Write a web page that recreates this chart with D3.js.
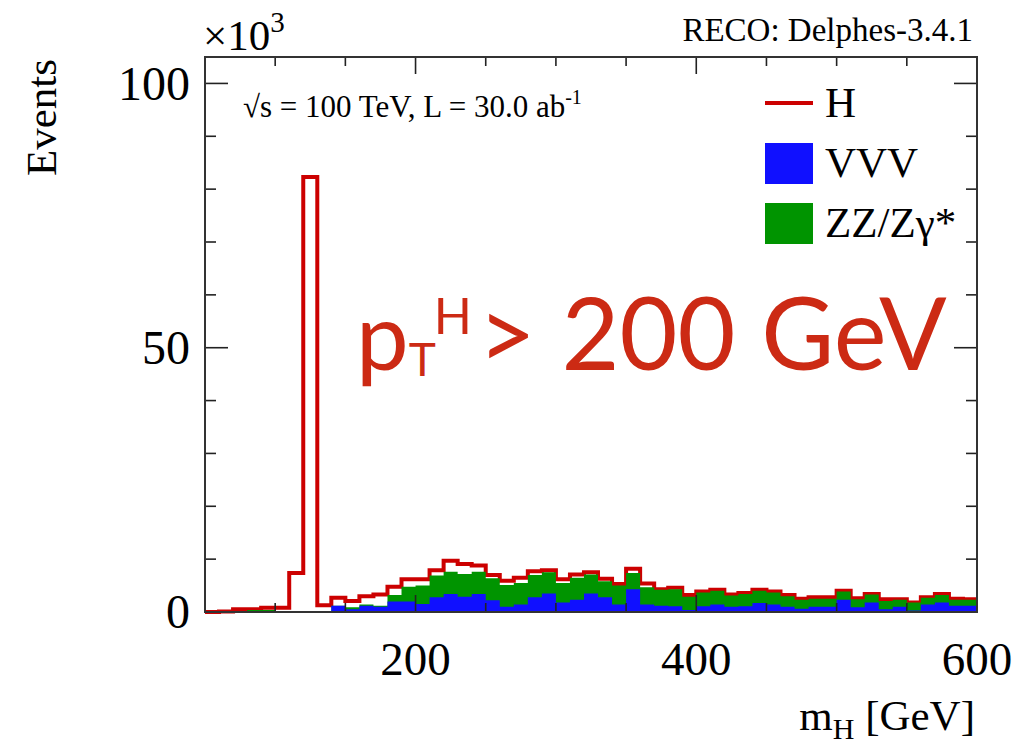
<!DOCTYPE html>
<html>
<head>
<meta charset="utf-8">
<script src="https://cdn.jsdelivr.net/npm/d3@7"></script>
<style>
  html, body { margin: 0; padding: 0; background: #fff; }
  svg { display: block; }
  .serif { font-family: "Liberation Serif", "DejaVu Serif", serif; fill: #000; }
</style>
</head>
<body>
<svg id="chart" width="1012" height="748"></svg>
<script>
// ---- data (events in units of 10^3), 10 GeV bins from 50 to 600 GeV ----
const binStart = 50;
const binWidth = 10;
const vvv = [0,0,0,0,0,0,0.2,0.1,0.1,1.2,0.5,1.2,1.0,2.0,2.0,1.5,2.8,3.4,2.9,3.4,2.2,1.0,1.4,2.8,3.5,1.8,2.3,3.5,2.8,1.4,4.3,1.4,1.2,1.1,0.4,1.1,1.4,1.0,1.1,1.7,1.4,1.0,0.6,1.0,1.0,2.3,0.9,1.8,0.5,1.0,0.3,1.4,1.8,1.2,1.2];
const zz  = [0,0,0.2,0.4,0.4,0,0,0,0,0,0.4,0.2,0.2,1.2,2.8,3.5,4.1,4.2,4.3,4.2,4.2,4.1,4.1,4.2,4.0,3.7,4.2,3.6,3.0,3.6,3.1,3.3,3.0,3.2,2.5,2.6,2.6,2.1,2.3,2.3,2.3,2.0,1.7,1.5,1.5,1.6,1.5,1.5,1.6,1.3,1.5,1.3,1.4,1.1,1.1];
const higgs = [0,0.1,0.3,0.1,0.4,0.8,7.2,82.2,1.2,1.5,1.2,1.6,2.1,1.6,1.4,1.2,1.0,2.1,1.9,1.2,0.6,0.8,1.0,0.7,0.4,0.7,0.6,0.4,0.5,0.3,0.8,0.7,0.1,0.3,0.3,0.2,0.2,0.2,0.2,0.2,0.2,0.2,0.2,0.3,0.3,0.1,0.2,0.1,0.3,0.1,0.0,0.1,0.2,0.2,0.1];
const xTicksMajor = [200, 400, 600];
const yTicksMajor = [0, 50, 100];
const legendItems = [
  {label: "H", kind: "line", color: "#cc0000"},
  {label: "VVV", kind: "box", color: "#1010ff"},
  {label: "ZZ/Z\u03b3*", kind: "box", color: "#009400"}
];

// ---- layout ----
const svg = d3.select("#chart");
const L = 205, R = 977, T = 57, B = 612;
const x = d3.scaleLinear().domain([50, 600]).range([L, R]);
const y = d3.scaleLinear().domain([0, 105]).range([B, T]);

const cumBlue = vvv.slice();
const cumGreen = vvv.map((v, i) => v + zz[i]);
const cumTotal = cumGreen.map((v, i) => v + higgs[i]);

function stepPoints(vals) {
  const pts = [];
  vals.forEach((v, i) => {
    const lo = binStart + i * binWidth;
    pts.push([lo, v], [lo + binWidth, v]);
  });
  return pts;
}
const area = d3.area().x(d => x(d[0])).y0(y(0)).y1(d => y(d[1]));
const line = d3.line().x(d => x(d[0])).y(d => y(d[1]));

const g = svg.append("g");
// H (top of stack): white fill, red outline
g.append("path").attr("d", area(stepPoints(cumTotal))).attr("fill", "#fff");
g.append("path").attr("d", line(stepPoints(cumTotal))).attr("fill", "none")
  .attr("stroke", "#cc0000").attr("stroke-width", 4).attr("stroke-linejoin", "miter");
// ZZ
g.append("path").attr("d", area(stepPoints(cumGreen))).attr("fill", "#009400");
// VVV
g.append("path").attr("d", area(stepPoints(cumBlue))).attr("fill", "#1010ff");

// ---- frame & ticks ----
const ax = svg.append("g").attr("stroke", "#222").attr("stroke-width", 1.6);
const xt = d3.range(100, 601, 50);
xt.forEach(v => {
  const len = xTicksMajor.includes(v) ? 17 : 9;
  ax.append("line").attr("x1", x(v)).attr("x2", x(v)).attr("y1", B).attr("y2", B - len);
  ax.append("line").attr("x1", x(v)).attr("x2", x(v)).attr("y1", T).attr("y2", T + len);
});
const yt = d3.range(0, 101, 10);
yt.forEach(v => {
  const len = yTicksMajor.includes(v) ? 23 : 11;
  ax.append("line").attr("x1", L).attr("x2", L + len).attr("y1", y(v)).attr("y2", y(v));
  ax.append("line").attr("x1", R).attr("x2", R - len).attr("y1", y(v)).attr("y2", y(v));
});
svg.append("rect").attr("x", L).attr("y", T).attr("width", R - L).attr("height", B - T)
  .attr("fill", "none").attr("stroke", "#333").attr("stroke-width", 2);

// tick labels
svg.selectAll(".xl").data(xTicksMajor).enter().append("text")
  .attr("class", "serif").attr("x", d => x(d)).attr("y", 675)
  .attr("text-anchor", "middle").attr("font-size", 47).text(d => d);
svg.selectAll(".yl").data(yTicksMajor).enter().append("text")
  .attr("class", "serif").attr("x", 190).attr("y", d => y(d)).attr("dy", "0.34em")
  .attr("text-anchor", "end").attr("font-size", 48).text(d => d);

// axis titles
svg.append("text").attr("class", "serif")
  .attr("transform", "translate(56,59) rotate(-90)")
  .attr("text-anchor", "end").attr("font-size", 43).text("Events");
const xtitle = svg.append("text").attr("class", "serif").attr("x", 975).attr("y", 730)
  .attr("text-anchor", "end").attr("font-size", 43);
xtitle.append("tspan").text("m");
xtitle.append("tspan").attr("font-size", 30).attr("dy", 9).text("H");
xtitle.append("tspan").attr("dy", -9).text(" [GeV]");

// x10^3
const mult = svg.append("text").attr("class", "serif").attr("x", 203).attr("y", 50).attr("font-size", 43);
mult.append("tspan").text("\u00d710");
mult.append("tspan").attr("font-size", 29).attr("dy", -18).text("3");

// top-right label
svg.append("text").attr("class", "serif").attr("x", 973).attr("y", 41)
  .attr("text-anchor", "end").attr("font-size", 33).text("RECO: Delphes-3.4.1");

// energy / lumi label
const el = svg.append("text").attr("class", "serif").attr("x", 243).attr("y", 117).attr("font-size", 31);
el.append("tspan").text("\u221as = 100 TeV, L = 30.0 ab");
el.append("tspan").attr("font-size", 20).attr("dy", -13).text("-1");

// legend
legendItems.forEach((d, i) => {
  const cy = 103 + i * 60;
  if (d.kind === "line") {
    svg.append("line").attr("x1", 765).attr("x2", 813).attr("y1", cy).attr("y2", cy)
      .attr("stroke", d.color).attr("stroke-width", 4);
  } else {
    svg.append("rect").attr("x", 765).attr("y", cy - 20).attr("width", 48).attr("height", 41)
      .attr("fill", d.color);
  }
  svg.append("text").attr("class", "serif").attr("x", 825).attr("y", cy + 14)
    .attr("font-size", 43).text(d.label);
});

// big red annotation (one text element)
const red = "#cc2a14";
const pth = svg.append("text").attr("fill", red)
  .attr("font-family", "Lato, 'Open Sans', sans-serif")
  .attr("x", 356).attr("y", 370).attr("font-size", 94);
pth.append("tspan").text("p");
pth.append("tspan").attr("font-size", 46).attr("dy", 6).text("T");
pth.append("tspan").attr("font-size", 50).attr("dx", -2).attr("dy", -42).text("H");
pth.append("tspan").attr("x", 478).attr("y", 370).attr("font-size", 100).text("> 200 GeV");
</script>
</body>
</html>
